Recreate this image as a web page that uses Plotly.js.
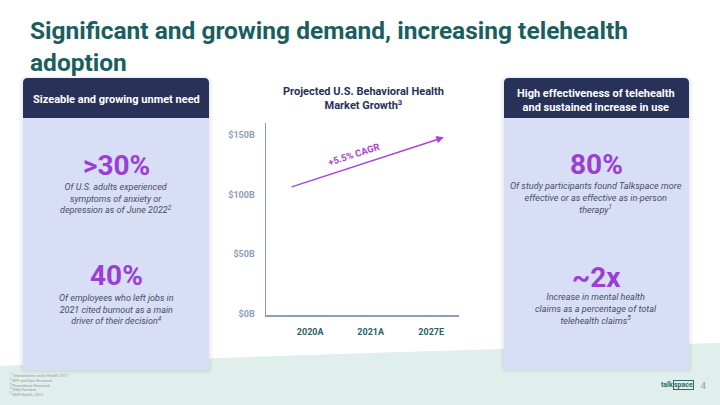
<!DOCTYPE html>
<html>
<head>
<meta charset="utf-8">
<script src="https://cdn.plot.ly/plotly-3.0.1.min.js"></script>
<style>
html,body{margin:0;padding:0;background:#fff;}
#chart{width:720px;height:405px;}
</style>
</head>
<body>
<div id="chart"></div>
<script>
// ---- data ----
const categories = ['2020A', '2021A', '2027E'];
const yTickVals = [0, 50, 100, 150];
const yTickText = ['$0B', '$50B', '$100B', '$150B'];
const cagrLabel = '+5.5% CAGR';
const cagrX = [-0.33, 2.21];      // arrow start / end (category index)
const cagrY = [106, 148];         // arrow start / end ($B)
const chartTitle = 'Projected U.S. Behavioral Health<br>Market Growth<sup>3</sup>';
const pageTitle = 'Significant and growing demand, increasing telehealth<br>adoption';
const leftHeader = 'Sizeable and growing unmet need';
const rightHeader = 'High effectiveness of telehealth<br>and sustained increase in use';
const statValues = ['>30%', '40%', '80%', '~2x'];
const statTexts = [
  'Of U.S. adults experienced<br>symptoms of anxiety or<br>depression as of June 2022<sup>2</sup>',
  'Of employees who left jobs in<br>2021 cited burnout as a main<br>driver of their decision<sup>4</sup>',
  'Of study participants found Talkspace more<br>effective or as effective as in-person<br>therapy<sup>1</sup>',
  'Increase in mental health<br>claims as a percentage of total<br>telehealth claims<sup>5</sup>'
];
const footnotes = [
  '<sup>1</sup> Telemedicine and e-Health 2017',
  '<sup>2</sup> KFF and Epic Research',
  '<sup>3</sup> Precedence Research',
  '<sup>4</sup> GNA Partners',
  '<sup>5</sup> FAIR Health, 2022'
];

// ---- helpers (pixel -> paper) ----
const W = 720, H = 405;
const px = x => x / W;
const py = y => 1 - y / H;
function rrect(x0, y0, x1, y1, rt, rb) {
  const P = (x, y) => px(x).toFixed(5) + ',' + py(y).toFixed(5);
  return 'M' + P(x0 + rt, y0) + ' L' + P(x1 - rt, y0) +
    ' Q' + P(x1, y0) + ' ' + P(x1, y0 + rt) +
    ' L' + P(x1, y1 - rb) + ' Q' + P(x1, y1) + ' ' + P(x1 - rb, y1) +
    ' L' + P(x0 + rb, y1) + ' Q' + P(x0, y1) + ' ' + P(x0, y1 - rb) +
    ' L' + P(x0, y0 + rt) + ' Q' + P(x0, y0) + ' ' + P(x0 + rt, y0) + ' Z';
}
function pathPx(pts) {
  return pts.map((p, i) => (p[0] === 'Q' ? 'Q' + px(p[1]).toFixed(5) + ',' + py(p[2]).toFixed(5) + ' ' + px(p[3]).toFixed(5) + ',' + py(p[4]).toFixed(5)
    : (i === 0 ? 'M' : 'L') + px(p[0]).toFixed(5) + ',' + py(p[1]).toFixed(5))).join(' ') + ' Z';
}

const NAVY = '#283158', LAV = '#D7DEF5', TEAL = '#1B5E5F', PURPLE = '#9B3FD3',
      DESC = '#4A4E66', BG = '#E0EEEC';
const FONT = 'Roboto, "Open Sans", Arial, sans-serif';

const shapes = [
  // bottom teal wave
  {type: 'path', xref: 'paper', yref: 'paper', layer: 'below', line: {width: 0}, fillcolor: BG,
   path: pathPx([[0, 366], ['Q', 360, 352, 720, 343], [720, 405], [0, 405]])},
];
function panel(x0, x1, y0, yh, y1) {
  // soft shadow
  shapes.push({type: 'path', xref: 'paper', yref: 'paper', layer: 'below', line: {width: 0},
    fillcolor: 'rgba(40,49,88,0.035)', path: rrect(x0 - 4, y0 - 2, x1 + 4, y1 + 4, 8, 8)});
  shapes.push({type: 'path', xref: 'paper', yref: 'paper', layer: 'below', line: {width: 0},
    fillcolor: 'rgba(40,49,88,0.04)', path: rrect(x0 - 2, y0 - 1, x1 + 2, y1 + 2, 6, 6)});
  shapes.push({type: 'path', xref: 'paper', yref: 'paper', layer: 'below', line: {width: 0},
    fillcolor: LAV, path: rrect(x0, y0, x1, y1, 5, 5)});
  shapes.push({type: 'path', xref: 'paper', yref: 'paper', layer: 'below', line: {width: 0},
    fillcolor: NAVY, path: rrect(x0, y0, x1, yh, 5, 0)});
}
panel(23, 209, 78, 118, 370);
panel(504, 689, 78, 118, 369);

const ann = [];
function txt(x, y, text, size, color, opts) {
  ann.push(Object.assign({xref: 'paper', yref: 'paper', x: px(x), y: py(y), text: text,
    showarrow: false, xanchor: 'center', yanchor: 'middle',
    font: {family: FONT, size: size, color: color}}, opts || {}));
}
// page title
txt(28, 46, pageTitle, 24.5, TEAL, {xanchor: 'left', align: 'left', font: {family: FONT, size: 24.5, color: TEAL, weight: 700}});
// panel headers
txt(116, 99, leftHeader, 11, '#fff', {font: {family: FONT, size: 11, color: '#fff', weight: 700}});
txt(596, 100, rightHeader, 11, '#fff', {font: {family: FONT, size: 11, color: '#fff', weight: 700}});
// stats
const statPos = [[116, 165, 198], [116, 275, 309], [596, 164, 198], [596, 277, 309]];
const descSize = [9.0, 9.0, 9.1, 9.1];
statValues.forEach((v, i) => {
  const p = statPos[i];
  txt(p[0], p[1], v, 28, PURPLE, {font: {family: FONT, size: 28, color: PURPLE, weight: 700}});
  txt(p[0], p[2], statTexts[i], descSize[i], DESC, {font: {family: FONT, size: descSize[i], color: DESC, style: 'italic'}});
});
// chart title
txt(363, 98, chartTitle, 11, NAVY, {font: {family: FONT, size: 11, color: NAVY, weight: 700}});
// CAGR arrow + label (data coords)
ann.push({xref: 'x', yref: 'y', axref: 'x', ayref: 'y', x: cagrX[1], y: cagrY[1], ax: cagrX[0], ay: cagrY[0],
  text: '', showarrow: true, arrowhead: 2, arrowsize: 1, arrowwidth: 1.5, arrowcolor: '#A545D8', standoff: 0, startstandoff: 0});
ann.push({xref: 'x', yref: 'y', x: 0.71, y: 134, text: cagrLabel, showarrow: false, textangle: -18,
  font: {family: FONT, size: 9.5, color: '#A545D8', weight: 700}});
// footnotes
footnotes.forEach((f, i) => txt(8, 375 + i * 4.8, f, 3.9, '#9A9A9A', {xanchor: 'left'}));
// logo + page number
txt(674, 385, 'talk', 7, '#2F6B6B', {xanchor: 'right', borderpad: 0, font: {family: FONT, size: 7, color: '#2F6B6B', weight: 700}});
txt(673, 385, 'space', 7, '#2F6B6B', {xanchor: 'left', bordercolor: '#2F6B6B', borderwidth: 1, borderpad: 0,
  font: {family: FONT, size: 7, color: '#2F6B6B', weight: 700}});
txt(703, 386, '4', 8.5, '#8C9CB8');

const traces = [{
  type: 'scatter', mode: 'markers', x: categories, y: categories.map(() => 0),
  marker: {opacity: 0, size: 1}, hoverinfo: 'skip', showlegend: false
}];

const layout = {
  width: W, height: H, margin: {l: 0, r: 0, t: 0, b: 0}, paper_bgcolor: '#fff', plot_bgcolor: 'rgba(0,0,0,0)',
  font: {family: FONT},
  showlegend: false,
  xaxis: {
    domain: [px(266), px(459)], type: 'category', categoryorder: 'array', categoryarray: categories,
    range: [-0.73, 2.46], showgrid: false, zeroline: false, showline: true, linecolor: '#8D9DBA', linewidth: 1.5,
    ticks: '', ticklabelstandoff: 8, tickfont: {family: FONT, size: 9, color: '#2F5F65', weight: 700}, fixedrange: true
  },
  yaxis: {
    domain: [py(315), py(123)], range: [-1, 160], tickvals: yTickVals, ticktext: yTickText,
    showgrid: false, zeroline: false, showline: true, linecolor: '#8D9DBA', linewidth: 1.5,
    ticks: '', ticklabelstandoff: 8, tickfont: {family: FONT, size: 9, color: '#8D9DBA', weight: 700}, fixedrange: true
  },
  shapes: shapes,
  annotations: ann
};
Plotly.newPlot('chart', traces, layout, {displayModeBar: false, staticPlot: true});
</script>
</body>
</html>
